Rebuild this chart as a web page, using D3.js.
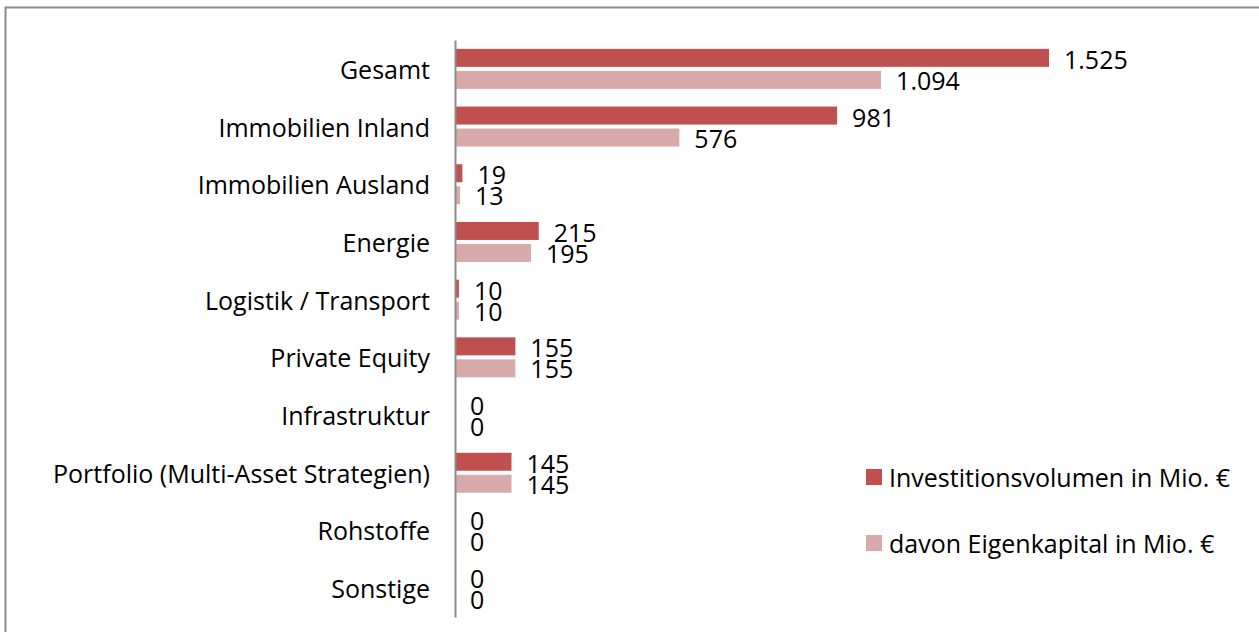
<!DOCTYPE html>
<html><head><meta charset="utf-8">
<script src="https://cdn.jsdelivr.net/npm/d3@7"></script>
<style>
html,body{margin:0;padding:0;background:#fff;}
svg{display:block;}
text{font-family:"Open Sans","Noto Sans",sans-serif;fill:#000;}
</style></head>
<body>
<svg id="chart" width="1259" height="632"></svg>
<script>
const categories = ["Gesamt","Immobilien Inland","Immobilien Ausland","Energie","Logistik / Transport","Private Equity","Infrastruktur","Portfolio (Multi-Asset Strategien)","Rohstoffe","Sonstige"];
const investValues = [1525,981,19,215,10,155,0,145,0,0];
const equityValues = [1094,576,13,195,10,155,0,145,0,0];
const seriesNames = ["Investitionsvolumen in Mio. €","davon Eigenkapital in Mio. €"];
const seriesColors = ["#C0504D","#D9AAAA"];

const svg = d3.select("#chart");
// outer frame
svg.append("path").attr("d","M5.5,640 L5.5,7.5 L1270,7.5").attr("fill","none").attr("stroke","#8c8c8c").attr("stroke-width",2);

const x = d3.scaleLinear().domain([0,1525]).range([455,1049]);
const y = d3.scaleBand().domain(categories).range([40,617]);
const fmt = d3.formatLocale({decimal:",",thousands:".",grouping:[3],currency:["","€"]}).format(",d");

const fontSize = 20;
// category labels
const labels = svg.append("g").selectAll("text").data(categories).enter().append("text")
  .attr("x",430).attr("y",d=>y(d)+y.bandwidth()/2)
  .attr("text-anchor","end").attr("dominant-baseline","central")
  .style("font-size",fontSize+"px").text(d=>d);
// fit longest label to reference width
let maxW = 0; labels.each(function(){maxW=Math.max(maxW,this.getComputedTextLength());});
const fs = fontSize*377/maxW;
svg.selectAll("text").style("font-size",fs+"px");

const series = [investValues, equityValues];
series.forEach((vals,si)=>{
  const g = svg.append("g");
  g.selectAll("rect").data(categories).enter().append("rect")
    .attr("x",x(0)).attr("width",(d,i)=>x(vals[i])-x(0))
    .attr("y",d=>y(d)+y.bandwidth()/2 + (si===0?-20:2)).attr("height",18)
    .attr("fill",seriesColors[si]);
  g.selectAll("text").data(categories).enter().append("text")
    .attr("x",(d,i)=>x(vals[i])+15)
    .attr("y",d=>y(d)+y.bandwidth()/2 + (si===0?-10:11))
    .attr("dominant-baseline","central")
    .style("font-size",fs+"px").text((d,i)=>fmt(vals[i]));
});

// axis line
svg.append("g").attr("transform","translate(455,0)")
  .call(d3.axisLeft(y).tickSize(0).tickFormat(""))
  .call(g=>g.select(".domain").attr("stroke","#8c8c8c").attr("stroke-width",2));

// legend
const leg = svg.append("g");
seriesNames.forEach((n,i)=>{
  const cy = 477 + i*66;
  leg.append("rect").attr("x",866).attr("y",cy-8).attr("width",16).attr("height",16).attr("fill",seriesColors[i]);
  leg.append("text").attr("x",889).attr("y",cy).attr("dominant-baseline","central")
    .style("font-size",fs+"px").text(n);
});
</script>
</body></html>
